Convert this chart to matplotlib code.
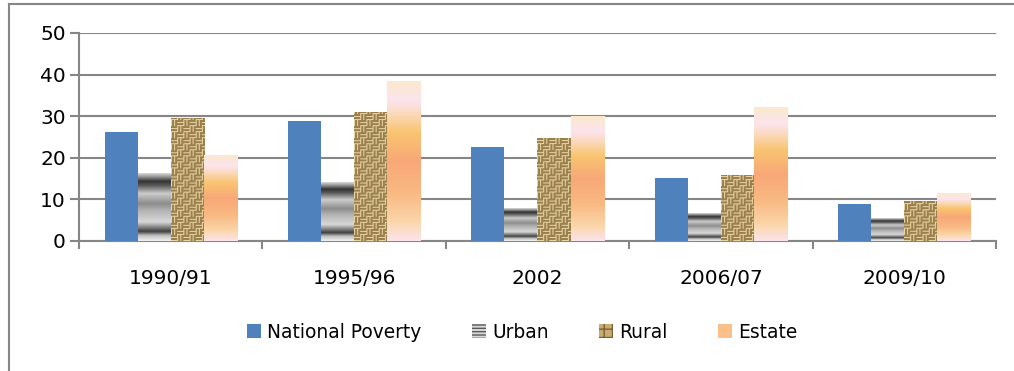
import numpy as np
import matplotlib
matplotlib.use("Agg")
from matplotlib import pyplot as plt
from matplotlib.patches import Patch
from matplotlib.lines import Line2D

years = ["1990/91", "1995/96", "2002", "2006/07", "2009/10"]
national = [26.1, 28.8, 22.7, 15.2, 8.9]
urban = [16.3, 14.0, 7.9, 6.7, 5.3]
rural = [29.4, 30.9, 24.7, 15.7, 9.4]
estate = [20.5, 38.4, 30.0, 32.0, 11.4]
series_names = ["National Poverty", "Urban", "Rural", "Estate"]

plt.rcParams['font.family'] = ['DejaVu Sans']

fig = plt.figure(figsize=(10.14, 3.71), dpi=100)
ax = fig.add_axes([79 / 1014, 130 / 371, 917 / 1014, 208 / 371])

width = 0.18
xs = np.arange(len(years))
offsets = [-1.5 * width, -0.5 * width, 0.5 * width, 1.5 * width]


def urban_tex():
    # metallic grey stripes, stretched to the bar
    stops = [0.0, 0.08, 0.14, 0.28, 0.45, 0.55, 0.7, 0.82, 0.88, 0.95, 1.0]
    vals = [0.95, 0.75, 0.25, 0.85, 0.7, 0.55, 0.8, 0.35, 0.2, 0.6, 0.85]
    t = np.linspace(0, 1, 200)
    g = np.interp(t, stops, vals)
    img = np.stack([g, g, g], axis=-1)[:, None, :]
    return np.repeat(img, 4, axis=1)


def rural_tex(h_px):
    rows = max(int(h_px), 4)
    cols = 33
    yy, xx = np.mgrid[0:rows, 0:cols]
    bi = (yy // 6 + xx // 6) % 2
    horiz = 0.5 + 0.5 * np.cos(2 * np.pi * yy / 3.0)
    vert = 0.5 + 0.5 * np.cos(2 * np.pi * xx / 3.0)
    s = np.where(bi == 0, horiz, vert)
    light = np.array([232, 212, 160]) / 255
    dark = np.array([128, 100, 52]) / 255
    return dark + (light - dark) * s[..., None]


def estate_tex():
    stops = [0.0, 0.12, 0.3, 0.5, 0.68, 0.8, 0.88, 1.0]
    cols = np.array([[252, 228, 236], [251, 214, 170], [249, 185, 130],
                     [248, 168, 120], [249, 196, 112], [251, 218, 190],
                     [252, 228, 238], [251, 233, 205]]) / 255
    t = np.linspace(0, 1, 200)
    img = np.stack([np.interp(t, stops, cols[:, k]) for k in range(3)], axis=-1)
    return np.repeat(img[:, None, :], 4, axis=1)


ax.bar(xs + offsets[0], national, width, color="#4f81bd", zorder=3)
for i in range(len(years)):
    x0 = xs[i] + offsets[1] - width / 2
    ax.imshow(urban_tex(), extent=[x0, x0 + width, 0, urban[i]], origin="lower",
              aspect="auto", interpolation="bilinear", zorder=3)
    x0 = xs[i] + offsets[2] - width / 2
    ax.imshow(rural_tex(rural[i] * 4.16), extent=[x0, x0 + width, 0, rural[i]],
              origin="lower", aspect="auto", interpolation="bilinear", zorder=3)
    x0 = xs[i] + offsets[3] - width / 2
    ax.imshow(estate_tex(), extent=[x0, x0 + width, 0, estate[i]], origin="lower",
              aspect="auto", interpolation="bilinear", zorder=3)

ax.set_xlim(-0.5, len(years) - 0.5)
ax.set_ylim(0, 50)
ax.set_aspect("auto")
ax.set_yticks([0, 10, 20, 30, 40, 50])
ax.set_xticks(xs)
ax.set_xticklabels(years)
ax.set_xticks(np.arange(len(years) + 1) - 0.5, minor=True)
ax.tick_params(axis="x", which="major", length=0, labelsize=14.5, pad=20)
ax.tick_params(axis="x", which="minor", length=6, width=1.5, color="#868686")
ax.tick_params(axis="y", length=6.5, width=1.5, color="#868686", labelsize=14.5, pad=3)
ax.grid(axis="y", color="#868686", linewidth=1.5, zorder=0)
for side in ["top", "right"]:
    ax.spines[side].set_visible(False)
for side in ["left", "bottom"]:
    ax.spines[side].set_color("#868686")
    ax.spines[side].set_linewidth(1.5)

handles = [
    Patch(facecolor="#4f81bd", edgecolor="none"),
    Patch(facecolor="#d9d9d9", edgecolor="#595959", hatch="-----", linewidth=0),
    Patch(facecolor="#c8ab70", edgecolor="#7a6035", hatch="++", linewidth=0),
    Patch(facecolor="#f9c08a", edgecolor="none"),
]
fig.legend(handles, series_names, loc="center", bbox_to_anchor=(0.515, 39 / 371),
           ncol=4, frameon=False, fontsize=13.4, handlelength=0.75, handleheight=0.75,
           handletextpad=0.35, columnspacing=2.7)

# outer chart frame (only left and top edges visible in the crop)
fig.add_artist(Line2D([9 / 1014, 9 / 1014], [0, 367 / 371], transform=fig.transFigure,
                      color="#868686", linewidth=1.5))
fig.add_artist(Line2D([9 / 1014, 1], [367 / 371, 367 / 371], transform=fig.transFigure,
                      color="#868686", linewidth=1.5))

fig.savefig("out.png", dpi=100)
